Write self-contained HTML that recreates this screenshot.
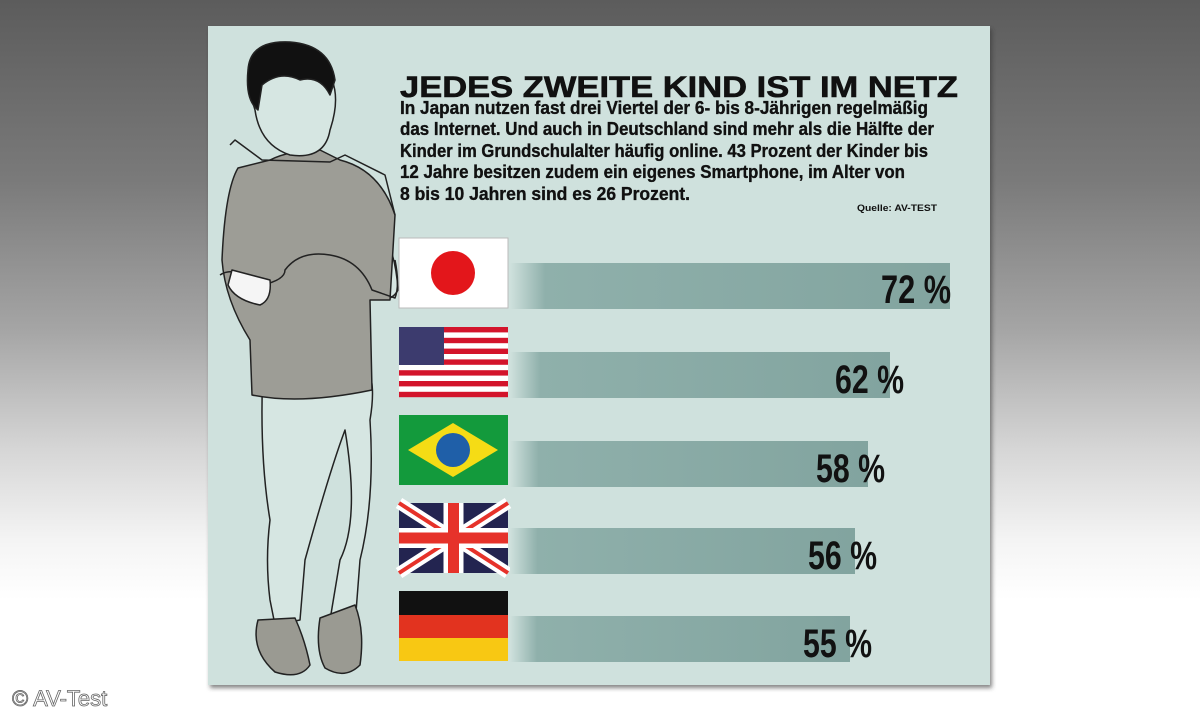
<!DOCTYPE html>
<html><head><meta charset="utf-8"><style>
html,body{margin:0;padding:0;width:1200px;height:720px;overflow:hidden}
body{background:linear-gradient(to bottom,#5c5c5c 0px,#7a7a7a 180px,#a5a5a5 330px,#d6d6d6 450px,#f4f4f4 540px,#fff 600px,#fff 720px)}
</style></head><body>
<svg width="1200" height="720" xmlns="http://www.w3.org/2000/svg" style="position:absolute;left:0;top:0">
<defs>
<linearGradient id="bar" x1="0" x2="1" y1="0" y2="0">
<stop offset="0" stop-color="#cfe1dd"/><stop offset="0.08" stop-color="#8fb0ab"/><stop offset="1" stop-color="#82a49f"/>
</linearGradient>
<filter id="sh"><feDropShadow dx="2" dy="3" stdDeviation="2" flood-color="#333" flood-opacity="0.6"/></filter>
</defs>
<rect x="208" y="26" width="782" height="659" fill="#cfe1dd" filter="url(#sh)"/>
<!-- boy -->
<g stroke="#222" stroke-width="1.5" fill="none" stroke-linejoin="round">
<path d="M268 300 Q255 430 270 520 Q265 560 270 600 L275 625 L300 620 L305 560 Q330 470 345 430 Q360 520 340 560 L330 620 L355 625 L360 560 Q375 500 370 420 Q375 390 370 375 Z" fill="#d6e6e2"/>
<path d="M258 620 Q250 650 275 672 Q300 680 310 665 Q305 640 295 618 Z" fill="#9a9a92"/>
<path d="M320 618 Q315 650 325 668 Q345 680 360 665 Q365 630 355 605 Z" fill="#9a9a92"/>
<path d="M370 215 Q395 240 398 290 Q390 305 370 295 Q340 260 300 262 L300 250 Q340 240 370 260 Z" fill="#d6e6e2"/>
<path d="M238 168 Q225 190 222 260 Q225 300 250 340 L252 395 Q300 405 372 390 L370 300 L390 300 L395 215 Q380 170 340 160 L320 150 Q290 150 270 160 Z" fill="#9d9d96"/>
<path d="M220 275 Q235 265 262 285 Q285 280 285 270 Q300 250 330 255 Q360 260 372 290 L395 298 Q400 285 395 260" fill="none"/>
<path d="M232 270 L270 280 Q272 300 260 305 Q235 300 228 285 Z" fill="#f5f5f5"/>
<path d="M255 55 Q245 80 255 110 Q260 145 290 155 Q325 160 330 130 Q340 100 332 80 Q320 50 290 45 Z" fill="#d6e6e2"/>
<path d="M248 70 Q250 40 290 42 Q330 45 335 80 L330 95 Q320 75 300 80 Q280 70 262 85 L258 110 Q245 100 248 70 Z" fill="#111"/>
<path d="M230 145 L235 140 L262 160 L330 162 L345 155 L385 175 L395 215" fill="none"/>
</g>
<!-- title -->
<text x="400" y="97" font-family="Liberation Sans, sans-serif" font-weight="bold" font-size="30" textLength="558" lengthAdjust="spacingAndGlyphs" fill="#111" stroke="#111" stroke-width="0.6">JEDES ZWEITE KIND IST IM NETZ</text>
<g font-family="Liberation Sans, sans-serif" font-weight="bold" font-size="18" fill="#111" stroke="#111" stroke-width="0.35">
<text x="400" y="114" textLength="528" lengthAdjust="spacingAndGlyphs">In Japan nutzen fast drei Viertel der 6- bis 8-Jährigen regelmäßig</text>
<text x="400" y="135" textLength="534" lengthAdjust="spacingAndGlyphs">das Internet. Und auch in Deutschland sind mehr als die Hälfte der</text>
<text x="400" y="157" textLength="528" lengthAdjust="spacingAndGlyphs">Kinder im Grundschulalter häufig online. 43 Prozent der Kinder bis</text>
<text x="400" y="178" textLength="505" lengthAdjust="spacingAndGlyphs">12 Jahre besitzen zudem ein eigenes Smartphone, im Alter von</text>
<text x="400" y="200" textLength="290" lengthAdjust="spacingAndGlyphs">8 bis 10 Jahren sind es 26 Prozent.</text>
<text x="857" y="211" font-size="9" stroke-width="0" textLength="80" lengthAdjust="spacingAndGlyphs">Quelle: AV-TEST</text>
</g>
<!-- flags -->
<rect x="399" y="238" width="109" height="70" fill="#fff" stroke="#bbb"/>
<circle cx="453" cy="273" r="22" fill="#e3161b"/>
<g>
<rect x="399" y="327" width="109" height="70" fill="#fff"/>
<g fill="#d3142b"><rect x="399" y="327" width="109" height="5.4"/><rect x="399" y="337.8" width="109" height="5.4"/><rect x="399" y="348.6" width="109" height="5.4"/><rect x="399" y="359.4" width="109" height="5.4"/><rect x="399" y="370.2" width="109" height="5.4"/><rect x="399" y="381" width="109" height="5.4"/><rect x="399" y="391.8" width="109" height="5.4"/></g>
<rect x="399" y="327" width="45" height="38" fill="#3c3b6e"/>
</g>
<rect x="399" y="415" width="109" height="70" fill="#139a3c"/>
<polygon points="408,450 453,423 498,450 453,477" fill="#f5dc15"/>
<circle cx="453" cy="450" r="17" fill="#1f5fa8"/>
<g>
<rect x="399" y="503" width="109" height="70" fill="#232450"/>
<path d="M399 503 L508 573 M508 503 L399 573" stroke="#fff" stroke-width="12"/>
<path d="M399 503 L508 573 M508 503 L399 573" stroke="#e6322a" stroke-width="4"/>
<path d="M453.5 503 V573 M399 538 H508" stroke="#fff" stroke-width="20"/>
<path d="M453.5 503 V573 M399 538 H508" stroke="#e6322a" stroke-width="11"/>
</g>
<rect x="399" y="591" width="109" height="24" fill="#111"/>
<rect x="399" y="615" width="109" height="23" fill="#e2331f"/>
<rect x="399" y="638" width="109" height="23" fill="#f8c813"/>
<!-- bars -->
<rect x="510" y="263" width="440" height="46" fill="url(#bar)"/>
<rect x="510" y="352" width="380" height="46" fill="url(#bar)"/>
<rect x="510" y="441" width="358" height="46" fill="url(#bar)"/>
<rect x="510" y="528" width="345" height="46" fill="url(#bar)"/>
<rect x="510" y="616" width="340" height="46" fill="url(#bar)"/>
<g font-family="Liberation Sans, sans-serif" font-weight="bold" font-size="40" fill="#111">
<text x="881" y="303" textLength="70" lengthAdjust="spacingAndGlyphs">72 %</text>
<text x="835" y="393" textLength="69" lengthAdjust="spacingAndGlyphs">62 %</text>
<text x="816" y="482" textLength="69" lengthAdjust="spacingAndGlyphs">58 %</text>
<text x="808" y="569" textLength="69" lengthAdjust="spacingAndGlyphs">56 %</text>
<text x="803" y="657" textLength="69" lengthAdjust="spacingAndGlyphs">55 %</text>
</g>
<text x="12" y="706" font-family="Liberation Sans, sans-serif" font-size="22" fill="#fff" stroke="#666" stroke-width="0.8">© AV-Test</text>
</svg>
</body></html>
